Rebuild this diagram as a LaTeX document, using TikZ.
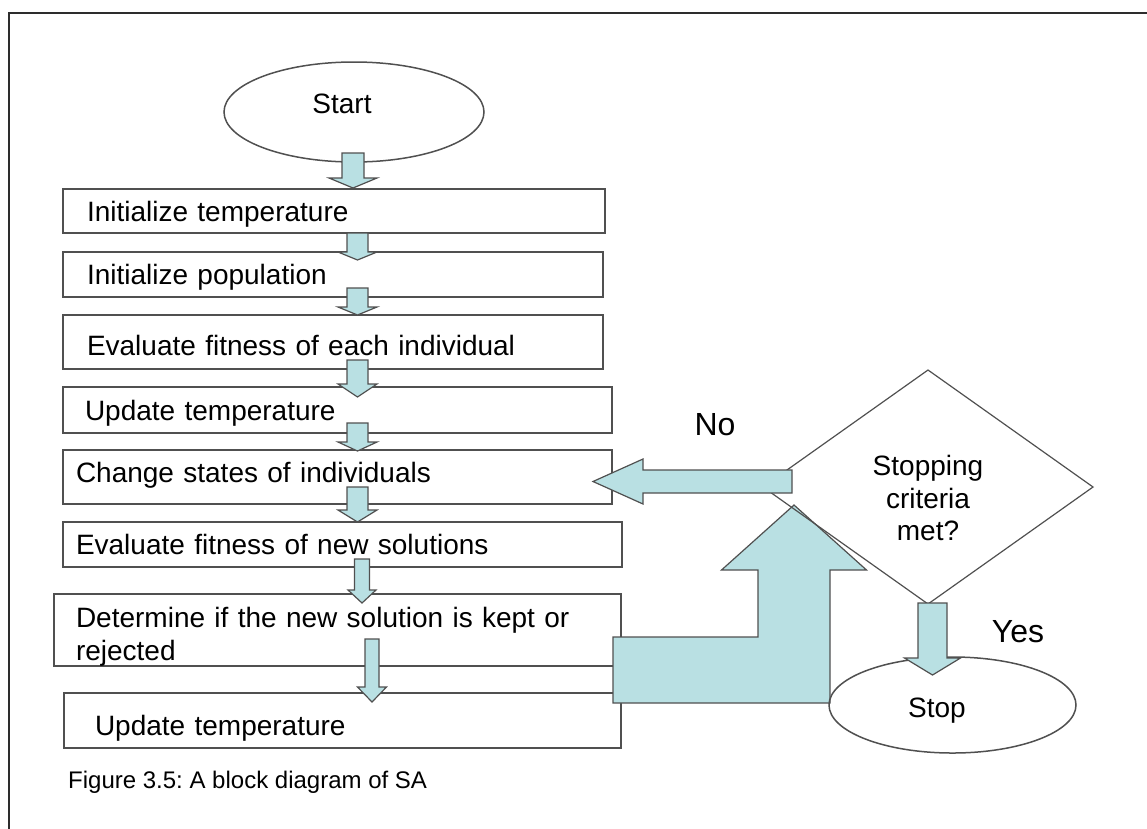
\documentclass[tikz,border=0pt]{standalone}
\usepackage{fontspec}
\setmainfont{Liberation Sans}
\usetikzlibrary{shapes.geometric,calc}

\definecolor{arrowfill}{RGB}{185,224,227}
\definecolor{linegray}{RGB}{80,80,80}
\definecolor{framegray}{RGB}{45,45,45}

\newcommand\bodyfont{\fontsize{28}{33}\selectfont}
\newcommand\answerfont{\fontsize{32}{38}\selectfont}
\newcommand\captionfont{\fontsize{24}{28}\selectfont}

% downward block arrow: #1 tail point, #2 tip point, #3 half shaft width,
% #4 half head width, #5 head length (x of the arrow taken from the tail)
\newcommand\downblock[5]{%
  \path[blockarrow] let \p1=#1, \p2=#2 in
    (\x1-#3,\y1) -- (\x1+#3,\y1) -- (\x1+#3,\y2+#5) -- (\x1+#4,\y2+#5)
    -- (\x1,\y2) -- (\x1-#4,\y2+#5) -- (\x1-#3,\y2+#5) -- cycle;}

% leftward block arrow: same arguments, y of the arrow taken from the tail
\newcommand\leftblock[5]{%
  \path[blockarrow] let \p1=#1, \p2=#2 in
    (\x1,\y1+#3) -- (\x2+#5,\y1+#3) -- (\x2+#5,\y1+#4) -- (\x2,\y1)
    -- (\x2+#5,\y1-#4) -- (\x2+#5,\y1-#3) -- (\x1,\y1-#3) -- cycle;}

\tikzset{
  stepbox/.style={draw=linegray, line width=1.5pt, rectangle, anchor=north west,
    inner ysep=0pt, outer sep=0pt, align=left, font=\bodyfont,
    text height=20pt, text depth=0pt},
  terminal/.style={draw=linegray, line width=1.5pt, ellipse, inner sep=0pt, outer sep=0pt},
  blockarrow/.style={draw=linegray, line width=1.2pt, fill=arrowfill, line join=miter},
  tag/.style={font=\bodyfont, text height=20pt, text depth=0pt, inner sep=0pt},
  answer/.style={font=\answerfont, text height=23pt, text depth=0pt, inner sep=0pt},
}

\begin{document}
\frenchspacing
\begin{tikzpicture}[x=1pt, y=-1pt]
\useasboundingbox (0,0) rectangle (1147,828);
\begin{scope}
\clip (0,0) rectangle (1147,828);
\draw[framegray, line width=2.5pt] (9,13) rectangle (1180,860);
\end{scope}

% axes of the small arrows
\coordinate (ax0) at (353,0);
\coordinate (ax1) at (357.5,0);
\coordinate (ax6) at (362,0);
\coordinate (ax7) at (372,0);
\coordinate (axy) at (932.5,0);

% start terminal
\node[terminal, minimum width=260pt, minimum height=100pt,
  label={[tag, xshift=-12pt, yshift=9pt]center:Start}] (start) at (354,112) {};

% process steps
\node[stepbox, inner xsep=24pt, text width=494pt, minimum height=44pt] (b1) at (63,189) {Initialize temperature};
\node[stepbox, inner xsep=24pt, text width=492pt, minimum height=45pt] (b2) at (63,252) {Initialize population};
\node[stepbox, inner xsep=24pt, text width=492pt, minimum height=54pt, text height=27pt] (b3) at (63,315) {Evaluate fitness of each individual};
\node[stepbox, inner xsep=22pt, text width=505pt, minimum height=46pt] (b4) at (63,387) {Update temperature};
\node[stepbox, inner xsep=13pt, text width=523pt, minimum height=54pt, text depth=10pt] (b5) at (63,450) {Change states of individuals};
\node[stepbox, inner xsep=13pt, text width=533pt, minimum height=45pt] (b6) at (63,522) {Evaluate fitness of new solutions};
\node[stepbox, inner xsep=22pt, text width=523pt, minimum height=72pt, text height=28pt, text depth=33pt] (b7) at (54,594) {Determine if the new solution is kept or\\rejected};
\node[stepbox, inner xsep=31pt, text width=495pt, minimum height=55pt, text height=30pt] (b8) at (64,693) {Update temperature};

\node[anchor=base west, font=\captionfont, inner sep=0pt] (cap) at (68,788) {Figure 3.5: A block diagram of SA};

% arrows between the steps
\downblock{($(start.south -| ax0)+(0,-9)$)}{($(b1.north -| ax0)+(0,-1)$)}{11pt}{24pt}{10pt}
\downblock{($(b1.south -| ax1)+(0,0)$)}{($(b2.north -| ax1)+(0,8)$)}{10.5pt}{19.5pt}{8pt}
\downblock{($(b2.south -| ax1)+(0,-9)$)}{($(b3.north -| ax1)+(0,0)$)}{10.5pt}{19.5pt}{8pt}
\downblock{($(b3.south -| ax1)+(0,-9)$)}{($(b4.north -| ax1)+(0,10)$)}{10.5pt}{19.5pt}{13pt}
\downblock{($(b4.south -| ax1)+(0,-10)$)}{($(b5.north -| ax1)+(0,1)$)}{10.5pt}{19.5pt}{9pt}
\downblock{($(b5.south -| ax1)+(0,-17)$)}{($(b6.north -| ax1)+(0,0)$)}{10.5pt}{19.5pt}{12pt}
\downblock{($(b6.south -| ax6)+(0,-8)$)}{($(b7.north -| ax6)+(0,9)$)}{7.5pt}{14pt}{13pt}
\downblock{($(b7.south -| ax7)+(0,-27)$)}{($(b8.north -| ax7)+(0,9)$)}{7pt}{14.5pt}{15pt}

% loop back towards the decision
\coordinate (loopin) at (794,505);
\path[blockarrow] let \p1=($(b7.east)+(-8,40)$), \p2=(loopin) in
  (\x1,\y1+33pt) -- (\x2-36pt,\y1+33pt) -- (\x2-36pt,\y2-65pt) -- (\x2-72.5pt,\y2-65pt)
  -- (\x2,\y2) -- (\x2+72.5pt,\y2-65pt) -- (\x2+36pt,\y2-65pt) -- (\x2+36pt,\y1-33pt)
  -- (\x1,\y1-33pt) -- cycle;

% decision
\node[draw=linegray, line width=1.2pt, diamond, minimum width=330pt, minimum height=234pt,
  inner sep=0pt, outer sep=0pt,
  label={[align=center, font=\fontsize{28}{32.5}\selectfont, inner sep=0pt, yshift=-11pt]center:Stopping\\criteria\\met?}] (dia) at (928,487) {};

% "No" branch back to changing the states
\leftblock{($(dia.west)+(29,-5.5)$)}{($(b5.east)+(-19,4.5)$)}{11.5pt}{22.5pt}{50pt}
\node[answer] (no) at (715,423.5) {No};

% stop terminal and "Yes" branch
\node[terminal, minimum width=247pt, minimum height=96pt,
  label={[tag, xshift=-15.5pt, yshift=-2pt]center:Stop}] (stop) at (952.5,705) {};
\downblock{($(dia.south -| axy)+(0,-1)$)}{($(stop.north -| axy)+(0,18)$)}{14.5pt}{28pt}{17pt}
\node[answer] (yes) at (1018,630.5) {Yes};
\end{tikzpicture}
\end{document}
